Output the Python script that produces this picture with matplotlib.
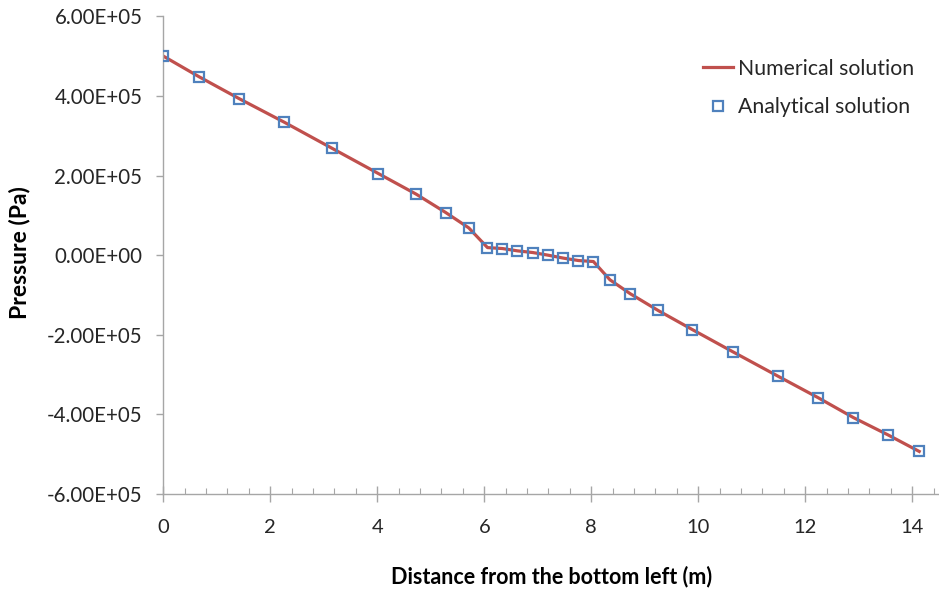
import matplotlib
matplotlib.use("Agg")
import matplotlib.pyplot as plt
from matplotlib.ticker import MultipleLocator, FuncFormatter

plt.rcParams['font.family'] = ['Lato', 'DejaVu Sans']

# Distance along the diagonal (m) and pressure (Pa)
distance = [0.00, 0.67, 1.42, 2.26, 3.16, 4.02, 4.73, 5.28, 5.71,
            6.06, 6.34, 6.62, 6.91, 7.19, 7.48, 7.76, 8.04,
            8.35, 8.73, 9.25, 9.89, 10.65, 11.49, 12.24, 12.90, 13.54, 14.13]
p_numerical = [5.00e5, 4.48e5, 3.93e5, 3.34e5, 2.68e5, 2.05e5, 1.53e5, 1.07e5, 0.685e5,
               1.9e4, 1.66e4, 1.08e4, 0.65e4, 0.0, -0.75e4, -1.35e4, -1.6e4,
               -6.2e4, -9.7e4, -1.39e5, -1.87e5, -2.43e5, -3.04e5, -3.58e5, -4.08e5, -4.51e5, -4.93e5]
p_analytical = [5.00e5, 4.48e5, 3.93e5, 3.34e5, 2.68e5, 2.05e5, 1.53e5, 1.07e5, 0.685e5,
                1.9e4, 1.66e4, 1.08e4, 0.65e4, 0.0, -0.75e4, -1.35e4, -1.6e4,
                -6.2e4, -9.7e4, -1.39e5, -1.87e5, -2.43e5, -3.04e5, -3.58e5, -4.08e5, -4.51e5, -4.93e5]

fig = plt.figure(figsize=(9.39, 5.92), dpi=100)
ax = fig.add_axes([0.1739, 0.1655, 0.8261, 0.807])

ax.plot(distance, p_numerical, color='#C0504D', lw=2.3, label='Numerical solution', zorder=2)
ax.plot(distance, p_analytical, ls='none', marker='s', ms=7.5, mfc='none',
        mec='#4F81BD', mew=1.6, label='Analytical solution', zorder=3)

ax.set_xlim(0, 14.5)
ax.set_ylim(-6e5, 6e5)
ax.xaxis.set_major_locator(MultipleLocator(2))
ax.xaxis.set_minor_locator(MultipleLocator(0.4))
ax.yaxis.set_major_locator(MultipleLocator(2e5))
ax.yaxis.set_major_formatter(FuncFormatter(lambda v, p: f"{v:.2E}"))
ax.xaxis.set_major_formatter(FuncFormatter(lambda v, p: f"{v:g}"))

for s in ('top', 'right'):
    ax.spines[s].set_visible(False)
for s in ('left', 'bottom'):
    ax.spines[s].set_color('#A6A6A6')
    ax.spines[s].set_linewidth(1.0)

ax.tick_params(axis='x', which='major', direction='inout', length=12, width=1,
               color='#A6A6A6', labelsize=14.5, pad=12, labelcolor='#262626')
ax.tick_params(axis='x', which='minor', direction='in', length=4, width=0.8,
               color='#A6A6A6')
ax.tick_params(axis='y', which='major', direction='out', length=5, width=1,
               color='#A6A6A6', labelsize=14.8, pad=10, labelcolor='#262626')

ax.set_xlabel('Distance from the bottom left (m)', fontsize=15.5, fontweight='bold',
              labelpad=21)
ax.set_ylabel('Pressure (Pa)', fontsize=16.5, fontweight='bold')
ax.yaxis.set_label_coords(-0.1718, 0.505)

leg = ax.legend(loc='upper left', bbox_to_anchor=(0.7487, 0.9005),
                bbox_transform=fig.transFigure, frameon=False, borderpad=0,
                borderaxespad=0, fontsize=15.3, handlelength=1.4,
                handletextpad=0.25, labelspacing=0.85, labelcolor='#262626')

fig.savefig('out.png', dpi=100)
